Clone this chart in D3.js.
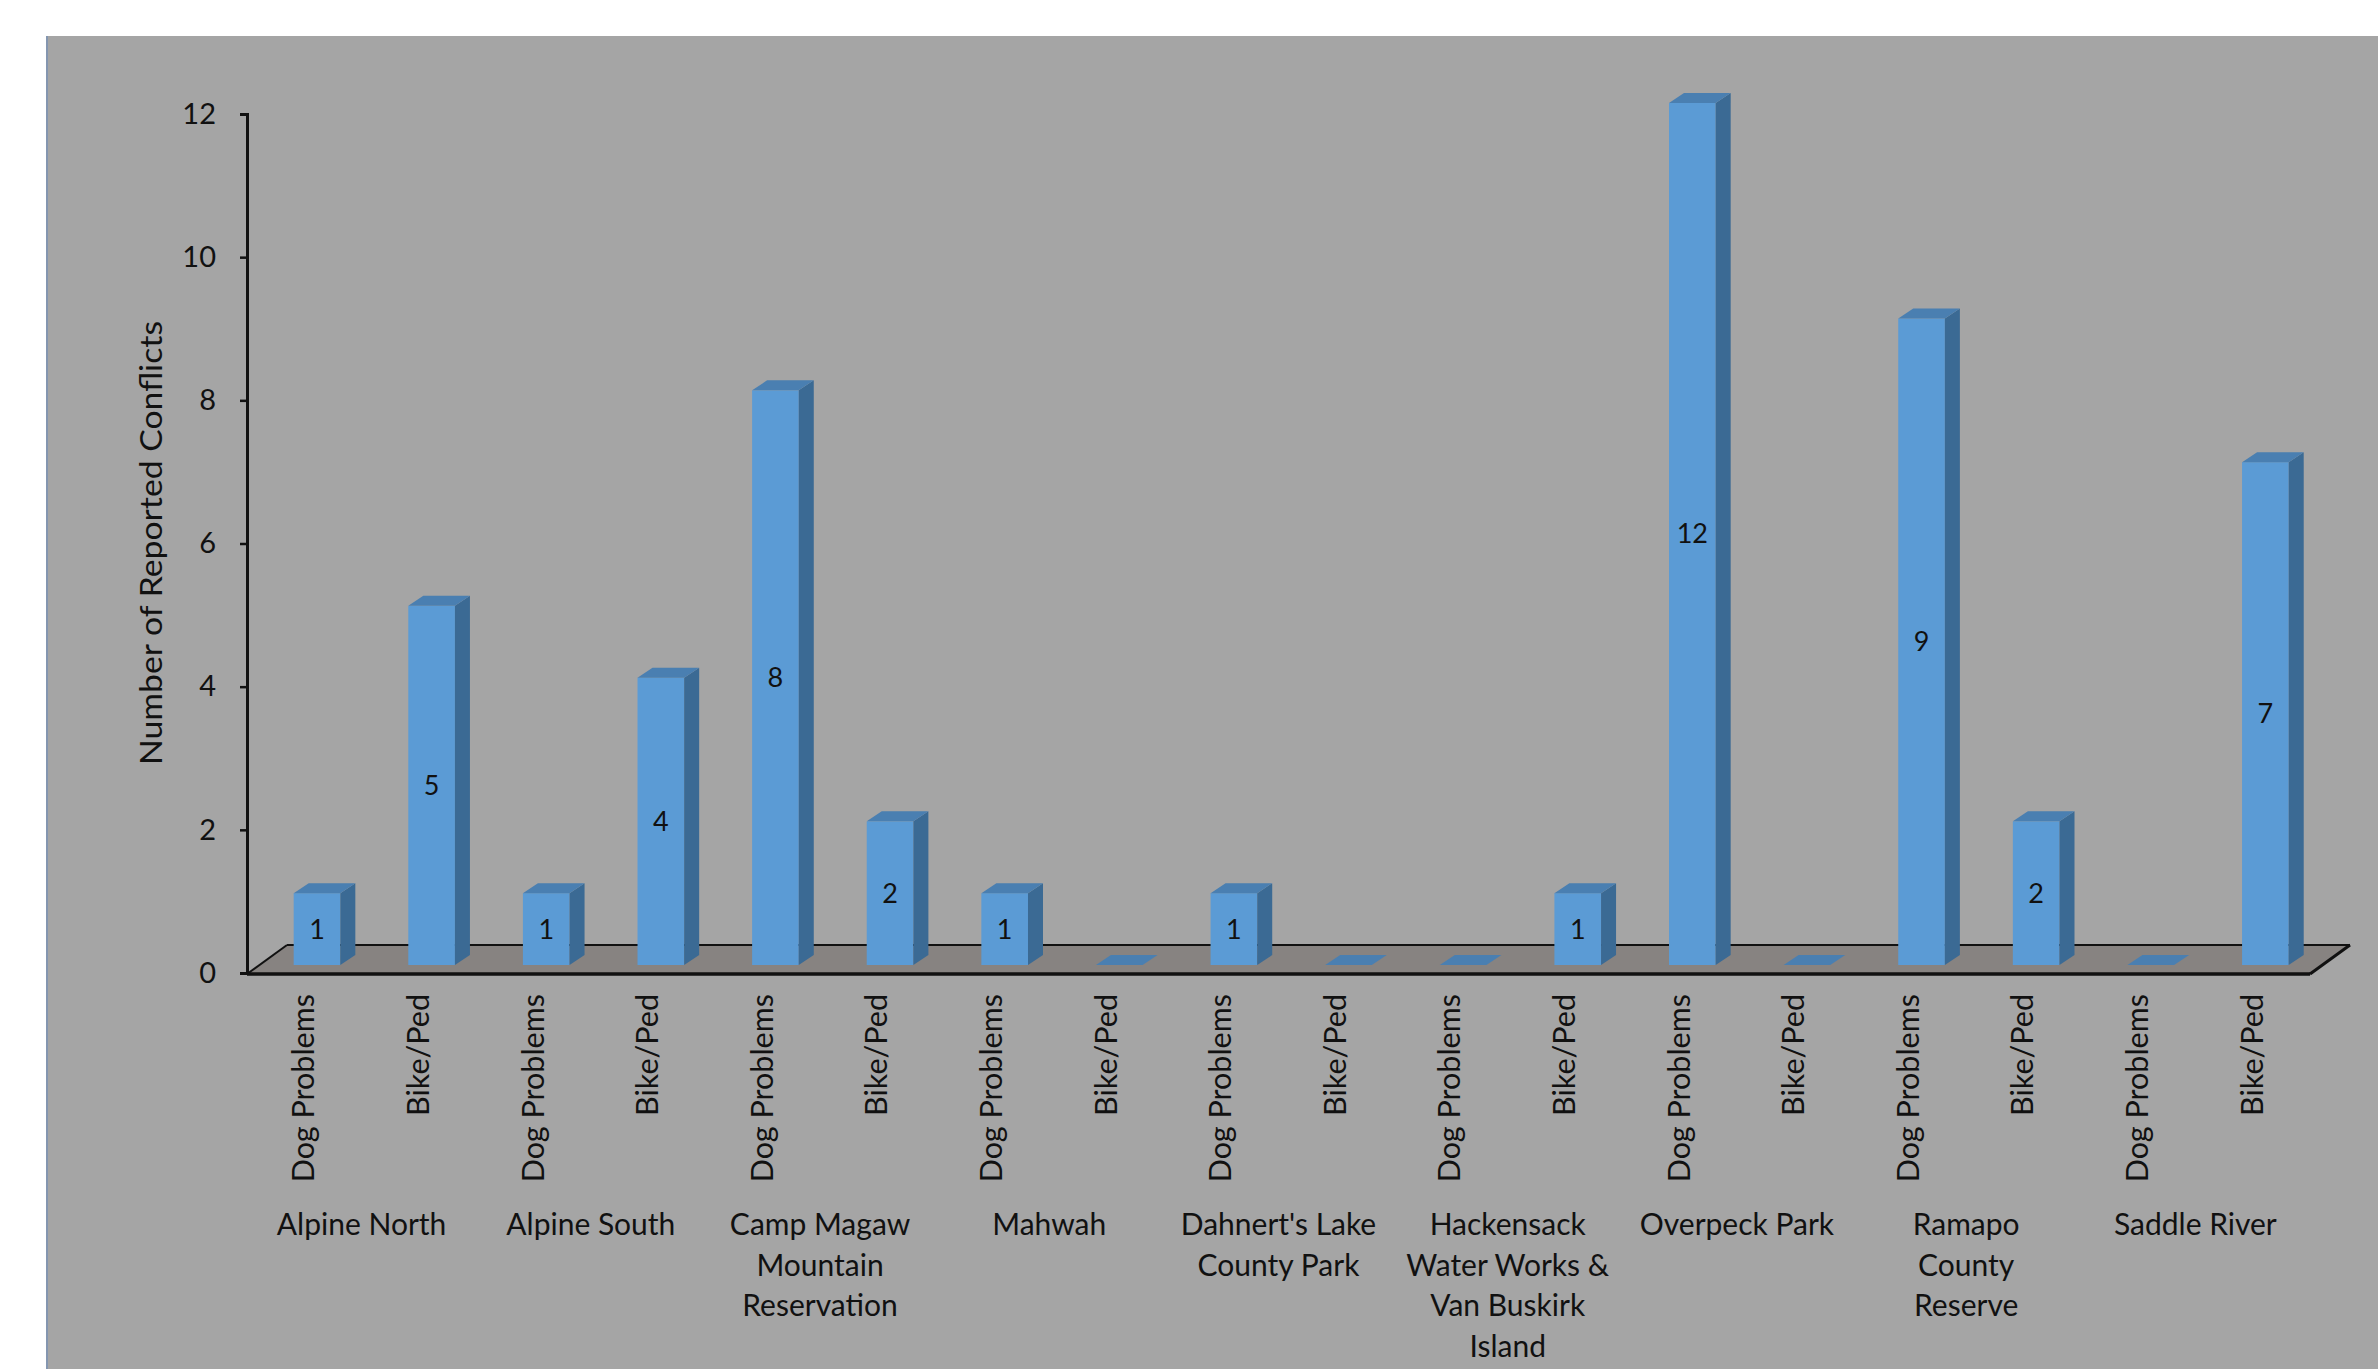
<!DOCTYPE html>
<html><head><meta charset="utf-8">
<script src="https://cdn.jsdelivr.net/npm/d3@7"></script>
<style>html,body{margin:0;padding:0;background:#fff;}svg{display:block;}</style>
</head><body>
<script>
const groups = ["Alpine North","Alpine South","Camp Magaw Mountain Reservation","Mahwah","Dahnert's Lake County Park","Hackensack Water Works & Van Buskirk Island","Overpeck Park","Ramapo County Reserve","Saddle River"];
const groupLines = [["Alpine North"],["Alpine South"],["Camp Magaw","Mountain","Reservation"],["Mahwah"],["Dahnert's Lake","County Park"],["Hackensack","Water Works &","Van Buskirk","Island"],["Overpeck Park"],["Ramapo","County","Reserve"],["Saddle River"]];
const seriesNames = ["Dog Problems","Bike/Ped"];
const dogProblems = [1,1,8,1,1,0,12,9,0];
const bikePed = [5,4,2,0,0,1,0,2,7];
const yTicks = [0,2,4,6,8,10,12];
const yTitle = "Number of Reported Conflicts";

const W = 2378, H = 1369;
const FONT = "Lato, 'Open Sans', sans-serif";
const svg = d3.select("body").append("svg").attr("width",W).attr("height",H);

// chart area background
svg.append("rect").attr("x",46).attr("y",36).attr("width",W-46).attr("height",H-36).attr("fill","#a5a5a5");
svg.append("line").attr("x1",47).attr("x2",47).attr("y1",36).attr("y2",H).attr("stroke","#8496b0").attr("stroke-width",2);

// flattened data
const bars = [];
groups.forEach((g,gi)=>{
  bars.push({g:gi, s:0, v:dogProblems[gi]});
  bars.push({g:gi, s:1, v:bikePed[gi]});
});

const x0 = 247, x1 = 2310;
const x = d3.scaleBand().domain(d3.range(bars.length)).range([x0,x1]).paddingInner(0).paddingOuter(0);
const xg = d3.scaleBand().domain(d3.range(groups.length)).range([x0,x1]);
const y = d3.scaleLinear().domain([0,12]).range([973,114]);
const yBar = d3.scaleLinear().domain([0,12]).range([965,103]);

// floor
const fdx = 40, fdy = -29, fy = 974;
svg.append("path")
  .attr("d", `M${x0},${fy} L${x1},${fy} L${x1+fdx},${fy+fdy} L${x0+fdx},${fy+fdy} Z`)
  .attr("fill","#878381").attr("stroke","none");
svg.append("line").attr("x1",x0+fdx).attr("x2",x1+fdx).attr("y1",fy+fdy).attr("y2",fy+fdy).attr("stroke","#111").attr("stroke-width",2);
svg.append("line").attr("x1",x0).attr("x2",x0+fdx).attr("y1",fy).attr("y2",fy+fdy).attr("stroke","#111").attr("stroke-width",2);
svg.append("line").attr("x1",x1).attr("x2",x1+fdx).attr("y1",fy).attr("y2",fy+fdy).attr("stroke","#111").attr("stroke-width",3);

// bars
const bw = x.bandwidth()*0.407;
const bOff = 12.7;   // depth shift of the bar row
const ddx = 15, ddy = -10; // bar depth
const gBars = svg.append("g");
bars.forEach((d,i)=>{
  const cx = x(i) + x.bandwidth()/2 + bOff;
  const l = cx - bw/2, r = cx + bw/2;
  const yb = yBar(0), yt = yBar(d.v);
  if (d.v > 0) {
    gBars.append("rect").attr("x",l).attr("y",yt).attr("width",bw).attr("height",yb-yt).attr("fill","#5b9bd5");
    gBars.append("path").attr("d",`M${r},${yb} L${r+ddx},${yb+ddy} L${r+ddx},${yt+ddy} L${r},${yt} Z`).attr("fill","#3b6a94");
  }
  gBars.append("path").attr("d",`M${l},${yt} L${r},${yt} L${r+ddx},${yt+ddy} L${l+ddx},${yt+ddy} Z`).attr("fill","#4a7fb1");
  if (d.v > 0) {
    gBars.append("text").attr("x",cx).attr("y",(yb+yt)/2).attr("dy","0.35em")
      .attr("text-anchor","middle").attr("font-family",FONT).attr("font-size",27).attr("fill","#111").text(d.v);
  }
});

// front floor edge (drawn over bars' bases)
svg.append("line").attr("x1",x0).attr("x2",x1).attr("y1",fy).attr("y2",fy).attr("stroke","#111").attr("stroke-width",3.5);

// y axis
const yAxis = d3.axisLeft(y).tickValues(yTicks).tickSize(7).tickPadding(24).tickFormat(d3.format("d"));
const ga = svg.append("g").attr("transform",`translate(${x0},0)`).call(yAxis);
ga.select(".domain").attr("stroke","#111").attr("stroke-width",3);
ga.selectAll(".tick line").attr("stroke","#111").attr("stroke-width",2.5);
ga.selectAll(".tick text").attr("font-family",FONT).attr("font-size",29).attr("fill","#111");

// y title
svg.append("text").attr("transform",`translate(162,543) rotate(-90)`).attr("text-anchor","middle")
  .attr("font-family",FONT).attr("font-size",31).attr("fill","#111")
  .attr("textLength",444).attr("lengthAdjust","spacingAndGlyphs").text(yTitle);

// category (series) labels
bars.forEach((d,i)=>{
  svg.append("text").attr("transform",`translate(${x(i)+x.bandwidth()/2+10},994) rotate(-90)`)
    .attr("text-anchor","end").attr("font-family",FONT).attr("font-size",30.5).attr("fill","#111")
    .text(seriesNames[d.s]);
});

// group labels
groupLines.forEach((lines,gi)=>{
  const t = svg.append("text").attr("text-anchor","middle").attr("font-family",FONT).attr("font-size",30).attr("fill","#111");
  lines.forEach((ln,k)=>{
    t.append("tspan").attr("x",xg(gi)+xg.bandwidth()/2).attr("y",1235+k*40.5).text(ln);
  });
});
</script>
</body></html>
